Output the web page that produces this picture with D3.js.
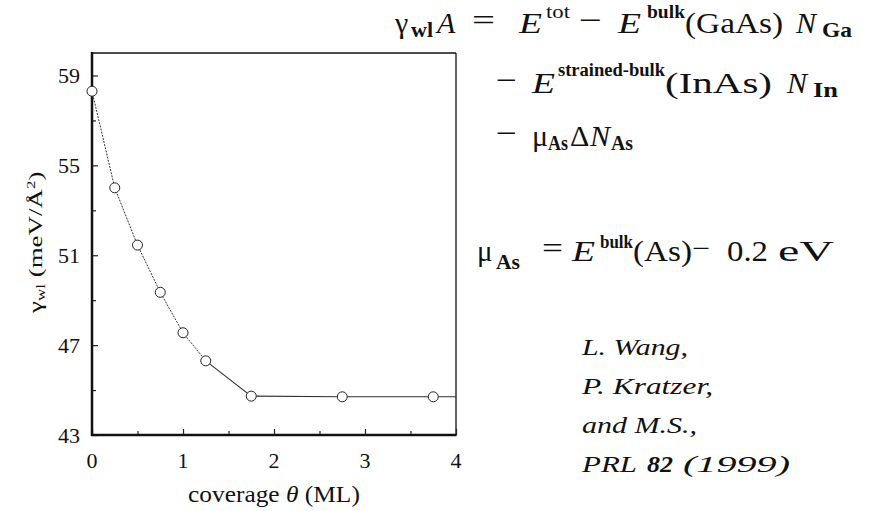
<!DOCTYPE html>
<html>
<head>
<meta charset="utf-8">
<script src="https://cdn.jsdelivr.net/npm/d3@7"></script>
<style>
  body { margin: 0; background: #fff; }
</style>
</head>
<body>
<script>
'use strict';

// data
const coverage = [0, 0.25, 0.5, 0.75, 1.0, 1.25, 1.75, 2.75, 3.75];
const energy = [58.3, 54.0, 51.45, 49.35, 47.55, 46.3, 44.73, 44.7, 44.7];
const xTicks = [0, 1, 2, 3, 4];
const yTicks = [43, 47, 51, 55, 59];
const citation = ["L. Wang,", "P. Kratzer,", "and M.S.,", "PRL 82 (1999)"];

// formula pieces: [text, kind, left, right]  (right is optional)
const formula1 = [["γ", "n", 395], ["wl", "sub", 411, 433], ["A", "i", 437],
  ["=", "op", 472, 495], ["E", "i", 519, 542], ["tot", "sup", 546, 570], ["−", "op", 579, 602],
  ["E", "i", 618, 641], ["bulk", "supb", 647, 685], ["(GaAs)", "n", 685, 783],
  ["N", "i", 796], ["Ga", "sub", 822, 852]];
const formula2 = [["−", "op", 496, 517], ["E", "i", 532, 555], ["strained-bulk", "supb", 558, 665],
  ["(InAs)", "n", 665, 772], ["N", "i", 787], ["In", "sub", 813, 838]];
const formula3 = [["−", "op", 496, 517], ["μ", "n", 532], ["As", "sub", 548, 568],
  ["Δ", "n", 570], ["N", "i", 590], ["As", "sub", 611, 633]];
const formula4 = [["μ", "n", 477], ["As", "sub", 496, 520], ["=", "op", 542, 563],
  ["E", "i", 572, 595], ["bulk", "supb", 600, 633], ["(As)", "n", 633, 692], ["−", "op", 692, 710],
  ["0.2", "n", 727, 768], ["eV", "n", 778, 834]];

(function() {
  const serif = 'Liberation Serif';

  let svg = d3.select('body')
    .append('svg')
    .attr('width', 874)
    .attr('height', 511)
    .attr('font-family', serif);

  // plot box
  let left = 92, right = 456, top = 53, bottom = 435;

  let xScale = d3.scaleLinear().domain([0, 4]).range([left, right]);
  let yScale = d3.scaleLinear().domain([43, 60]).range([bottom, top]);

  // frame: left and bottom heavy, top and right thin
  svg.append('line').attr('x1', left).attr('x2', right).attr('y1', top).attr('y2', top)
    .attr('stroke', '#111').attr('stroke-width', 1.3);
  svg.append('line').attr('x1', right).attr('x2', right).attr('y1', top).attr('y2', bottom)
    .attr('stroke', '#111').attr('stroke-width', 1.3);

  // inward ticks
  let xAxis = d3.axisTop(xScale).tickValues(d3.range(0, 4.01, 0.5)).tickSize(6).tickFormat('');
  let gx = svg.append('g').attr('transform', `translate(0, ${bottom})`).call(xAxis);
  gx.selectAll('.tick line').attr('stroke', '#222').attr('stroke-width', 1.2)
    .attr('y2', (d) => d % 1 === 0 ? -6 : -4);
  gx.select('.domain').remove();

  let yAxis = d3.axisRight(yScale).tickValues(d3.range(43, 60, 2)).tickSize(6).tickFormat('');
  let gy = svg.append('g').attr('transform', `translate(${left}, 0)`).call(yAxis);
  gy.selectAll('.tick line').attr('stroke', '#222').attr('stroke-width', 1.2)
    .attr('x2', (d) => (d - 43) % 4 === 0 ? 6 : 4);
  gy.select('.domain').remove();

  svg.append('line').attr('x1', left).attr('x2', left).attr('y1', top - 1).attr('y2', bottom + 1)
    .attr('stroke', '#111').attr('stroke-width', 2.5);
  svg.append('line').attr('x1', left - 1).attr('x2', right + 0.6).attr('y1', bottom).attr('y2', bottom)
    .attr('stroke', '#111').attr('stroke-width', 2.5);

  // tick labels
  svg.selectAll('.xlab')
    .data(xTicks)
    .enter()
    .append('text')
      .attr('x', (d) => xScale(d))
      .attr('y', 468)
      .attr('text-anchor', 'middle')
      .attr('font-size', 22)
      .attr('fill', '#111')
      .text((d) => d);

  svg.selectAll('.ylab')
    .data(yTicks)
    .enter()
    .append('text')
      .attr('x', 80)
      .attr('y', (d) => yScale(d) + 8)
      .attr('text-anchor', 'end')
      .attr('font-size', 22)
      .attr('fill', '#111')
      .text((d) => d);

  // stretch factor so a text group spans a given width along its own direction
  function fitWidth(g, target) {
    let w = g.node().getBBox().width;
    return target / w;
  }

  // axis titles
  let xtG = svg.append('g');
  let xt = xtG.append('text')
    .attr('x', 0).attr('y', 0)
    .attr('font-size', 23)
    .attr('fill', '#111');
  xt.append('tspan').text('coverage ');
  xt.append('tspan').attr('font-style', 'italic').text('θ');
  xt.append('tspan').text(' (ML)');
  let kx = fitWidth(xtG, 172);
  xtG.attr('transform', `translate(188, 502) scale(${kx}, 1)`);

  let ytG = svg.append('g');
  let yt = ytG.append('text')
    .attr('x', 0).attr('y', 0)
    .attr('font-size', 19)
    .attr('fill', '#111');
  yt.append('tspan').text('γ');
  yt.append('tspan').attr('dy', 3).attr('font-size', 12).text('wl');
  yt.append('tspan').attr('dy', -3).text(' (meV/Å');
  yt.append('tspan').attr('dy', -7).attr('font-size', 12).text('2');
  yt.append('tspan').attr('dy', 7).text(')');
  let ky = fitWidth(ytG, 143);
  ytG.attr('transform', `translate(42, 313) rotate(-90) scale(${ky}, 1)`);

  // line: dashed part at low coverage, solid afterwards, extended to the frame
  let line = d3.line()
    .x((d) => xScale(d[0]))
    .y((d) => yScale(d[1]));
  let pts = coverage.map((c, i) => [c, energy[i]]);
  let dashedPts = pts.filter((d) => d[0] <= 1.25);
  let solidPts = pts.filter((d) => d[0] >= 1.25);
  solidPts.push([4, energy[energy.length - 1]]);

  svg.append('path')
    .attr('d', line(dashedPts))
    .attr('fill', 'none')
    .attr('stroke', '#333')
    .attr('stroke-width', 1)
    .attr('stroke-dasharray', '2,1.2');
  svg.append('path')
    .attr('d', line(solidPts))
    .attr('fill', 'none')
    .attr('stroke', '#333')
    .attr('stroke-width', 1.1);

  svg.selectAll('.dot')
    .data(pts)
    .enter()
    .append('circle')
      .attr('cx', (d) => xScale(d[0]))
      .attr('cy', (d) => yScale(d[1]))
      .attr('r', 5)
      .attr('fill', '#fff')
      .attr('stroke', '#222')
      .attr('stroke-width', 1);

  // formulas: each piece its own text, stretched to the measured span
  function formula(parts, base, size, subDy, supDy) {
    parts.forEach(([s, kind, x0, x1]) => {
      let y = base, fs = size, weight = 'normal', style = 'normal';
      if (kind === 'sub') { y = base + subDy; fs = size * 0.7; weight = 'bold'; }
      if (kind === 'sup') { y = base + supDy; fs = size * 0.64; }
      if (kind === 'supb') { y = base + supDy; fs = size * 0.64; weight = 'bold'; }
      if (kind === 'i') style = 'italic';
      if (kind === 'op') y = base - 3;
      let t = svg.append('text')
        .attr('x', x0)
        .attr('y', y)
        .attr('font-size', fs)
        .attr('font-weight', weight)
        .attr('font-style', style)
        .attr('fill', '#111')
        .text(s);
      if (x1 !== undefined) {
        t.attr('textLength', x1 - x0)
          .attr('lengthAdjust', 'spacingAndGlyphs');
      }
    });
  }
  formula(formula1, 33, 30, 4, -15);
  formula(formula2, 93, 30, 4, -17);
  formula(formula3, 146, 30, 4, -15);
  formula(formula4, 261, 29, 8, -13);

  // citation
  let citeRight = [688, 713, 697];
  let citeG = svg.append('g')
    .attr('font-size', 24)
    .attr('font-style', 'italic')
    .attr('fill', '#111');
  citeG.selectAll('text')
    .data(citation.slice(0, 3))
    .enter()
    .append('text')
      .attr('x', 582)
      .attr('y', (d, i) => 355 + i * 39)
      .attr('textLength', (d, i) => citeRight[i] - 582)
      .attr('lengthAdjust', 'spacingAndGlyphs')
      .text((d) => d);
  // last line: journal, bold volume, year
  let last = citation[3].split(' ');
  let lastSpans = [[last[0], 582, 637, 'normal'], [last[1], 647, 673, 'bold'], [last[2], 683, 790, 'normal']];
  citeG.selectAll('.ref')
    .data(lastSpans)
    .enter()
    .append('text')
      .attr('x', (d) => d[1])
      .attr('y', 355 + 3 * 39)
      .attr('font-weight', (d) => d[3])
      .attr('textLength', (d) => d[2] - d[1])
      .attr('lengthAdjust', 'spacingAndGlyphs')
      .text((d) => d[0]);
})();
</script>
</body>
</html>
